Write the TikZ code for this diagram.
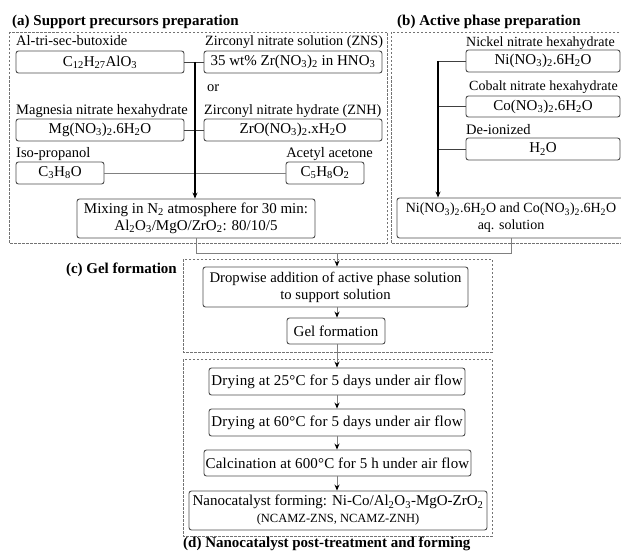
\documentclass[tikz,border=0pt]{standalone}
\usepackage{fontspec}
\setmainfont{Liberation Serif}
\usetikzlibrary{arrows.meta}
\newcommand\chs[1]{\textsubscript{#1}}
\begin{document}
\begin{tikzpicture}[x=1pt,y=-1pt,
  every node/.style={font=\fontsize{15}{17}\selectfont},
  box/.style={draw=black!70, line width=0.9pt, rounded corners=2.5pt, inner sep=0pt, align=center, anchor=center},
  wide/.style={font=\fontsize{15}{17}\selectfont\addfontfeature{LetterSpace=#1}},
  lbl/.style={inner sep=0pt, anchor=base west, font=\fontsize{14.5}{17}\selectfont},
  ttl/.style={inner sep=0pt, anchor=base west, font=\fontsize{15}{17}\selectfont\bfseries},
  region/.style={draw=black!55, line width=0.8pt, dash pattern=on 2.5pt off 1.5pt},
  trunk/.style={black, line width=1.3pt},
  tie/.style={black!75, line width=0.9pt},
  conn/.style={black!50, line width=0.9pt},
  tip/.style={-{Stealth[length=6pt,width=5pt,color=black]}},
]
\useasboundingbox (0,0) rectangle (621,551);
\clip (0,0) rectangle (621,551);

% regions
\draw[region] (9,32) rectangle (387,243);
\draw[region] (391,32) rectangle (640,243);
\draw[region] (183,259) rectangle (492,352);
\draw[region] (183,359) rectangle (492,536);

% titles
\node[ttl] (ta) at (12,25.5) {(a) Support precursors preparation};
\node[ttl] (tb) at (397,25.5) {(b) Active phase preparation};
\node[ttl, anchor=base east] (tc) at (177,273) {(c) Gel formation};
\node[ttl] (td) at (183,547) {(d) Nanocatalyst post-treatment and forming};

% (a) labels
\node[lbl] (l1) at (16,46) {Al-tri-sec-butoxide};
\node[lbl, font=\fontsize{14.2}{17}\selectfont] (l2) at (205,46) {Zirconyl nitrate solution (ZNS)};
\node[lbl] (l3) at (207,92) {or};
\node[lbl] (l4) at (16,114) {Magnesia nitrate hexahydrate};
\node[lbl, font=\fontsize{14.2}{17}\selectfont] (l5) at (204,114) {Zirconyl nitrate hydrate (ZNH)};
\node[lbl] (l6) at (16,157) {Iso-propanol};
\node[lbl, anchor=base east] (l7) at (373,157) {Acetyl acetone};

% (a) boxes
\node[box, minimum width=168pt, minimum height=22pt] (c12) at (100,62) {C\chs{12}H\chs{27}AlO\chs{3}};
\node[box, minimum width=178pt, minimum height=22pt] (zns) at (293,62) {35 wt\% Zr(NO\chs{3})\chs{2} in HNO\chs{3}};
\node[box, minimum width=168pt, minimum height=22pt] (mg) at (100,130) {Mg(NO\chs{3})\chs{2}.6H\chs{2}O};
\node[box, minimum width=178pt, minimum height=22pt] (zro) at (293,130) {ZrO(NO\chs{3})\chs{2}.xH\chs{2}O};
\node[box, minimum width=88pt, minimum height=22pt] (c3) at (60,173) {C\chs{3}H\chs{8}O};
\node[box, minimum width=78pt, minimum height=22pt] (c5) at (325,173) {C\chs{5}H\chs{8}O\chs{2}};
\node[box, minimum width=238pt, minimum height=39pt] (mix) at (196,218.5) {Mixing in N\chs{2} atmosphere for 30 min:\\Al\chs{2}O\chs{3}/MgO/ZrO\chs{2}: 80/10/5};

% (b) labels and boxes
\node[lbl, font=\fontsize{14}{17}\selectfont] (l8) at (466,47) {Nickel nitrate hexahydrate};
\node[lbl, font=\fontsize{14}{17}\selectfont] (l9) at (469,91) {Cobalt nitrate hexahydrate};
\node[lbl] (l10) at (466,134) {De-ionized};
\node[box, minimum width=154pt, minimum height=22pt] (ni) at (543,61) {Ni(NO\chs{3})\chs{2}.6H\chs{2}O};
\node[box, minimum width=154pt, minimum height=21pt] (co) at (543,106.5) {Co(NO\chs{3})\chs{2}.6H\chs{2}O};
\node[box, minimum width=154pt, minimum height=22pt] (wa) at (543,149) {H\chs{2}O};
\node[box, minimum width=228pt, minimum height=40pt, font=\fontsize{14}{17}\selectfont] (niaq) at (511,218) {Ni(NO\chs{3})\chs{2}.6H\chs{2}O and Co(NO\chs{3})\chs{2}.6H\chs{2}O\\aq. solution};

% (c) and (d) boxes
\node[box, minimum width=265pt, minimum height=40pt, font=\fontsize{14.7}{17}\selectfont] (drop) at (335.5,287) {Dropwise addition of active phase solution\\to support solution};
\node[box, minimum width=98pt, minimum height=26pt] (gel) at (336,331) {Gel formation};
\node[box, wide=1.5, minimum width=256pt, minimum height=27pt] (d25) at (337,381.5) {Drying at 25°C for 5 days under air flow};
\node[box, wide=1.5, minimum width=256pt, minimum height=27pt] (d60) at (337,422.5) {Drying at 60°C for 5 days under air flow};
\node[box, wide=1, minimum width=267pt, minimum height=26pt] (calc) at (337.5,463) {Calcination at 600°C for 5 h under air flow};
\node[box, minimum width=298pt, minimum height=39pt] (nano) at (338,510.5) {Nanocatalyst forming: Ni-Co/Al\chs{2}O\chs{3}-MgO-ZrO\chs{2}\\{\fontsize{12.5}{13}\selectfont (NCAMZ-ZNS, NCAMZ-ZNH)}};

% (a) connectors
\coordinate (ja) at (195,62);
\draw[tie] (c12.east) -- (zns.west);
\draw[tie] (mg.east) -- (zro.west);
\draw[conn] (c3.east) -- (c5.west);
\draw[trunk,tip] (ja) -- (ja |- mix.north);

% (b) connectors
\coordinate (jb) at (438,61);
\draw[tie] (ni.west) -- (ni.west -| jb);
\draw[tie] (co.west) -- (co.west -| jb);
\draw[tie] (wa.west) -- (wa.west -| jb);
\draw[trunk,tip] (jb) -- (jb |- niaq.north);

% merge and chain
\coordinate (jm) at (337,253);
\draw[conn] (mix.south) |- (jm);
\draw[conn] (niaq.south) |- (jm);
\draw[conn,tip] (jm) -- (jm |- drop.north);
\draw[conn,tip] (drop.south -| jm) -- (gel.north -| jm);
\draw[conn,tip] (gel.south -| jm) -- (d25.north -| jm);
\draw[conn,tip] (d25.south -| jm) -- (d60.north -| jm);
\draw[conn,tip] (d60.south -| jm) -- (calc.north -| jm);
\draw[conn,tip] (calc.south -| jm) -- (nano.north -| jm);
\end{tikzpicture}
\end{document}
